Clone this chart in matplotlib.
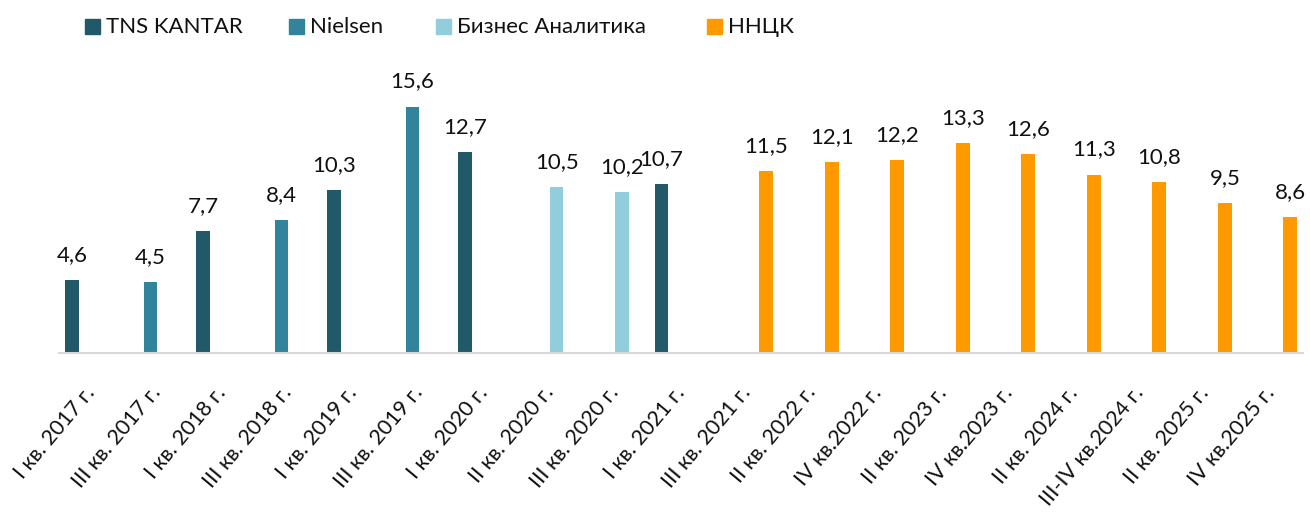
import numpy as np
import matplotlib
matplotlib.use("Agg")
import matplotlib.pyplot as plt
from matplotlib.patches import Rectangle

plt.rcParams['font.family'] = ['Lato', 'DejaVu Sans']

categories = ["I кв. 2017 г.", "III кв. 2017 г.", "I кв. 2018 г.", "III кв. 2018 г.",
              "I кв. 2019 г.", "III кв. 2019 г.", "I кв. 2020 г.", "II кв. 2020 г.",
              "III кв. 2020 г.", "I кв. 2021 г.", "III кв. 2021 г.", "II кв. 2022 г.",
              "IV кв.2022 г.", "II кв. 2023 г.", "IV кв.2023 г.", "II кв. 2024 г.",
              "III-IV кв.2024 г.", "II кв. 2025 г.", "IV кв.2025 г."]
values = [4.6, 4.5, 7.7, 8.4, 10.3, 15.6, 12.7, 10.5, 10.2, 10.7,
          11.5, 12.1, 12.2, 13.3, 12.6, 11.3, 10.8, 9.5, 8.6]
# which source (series) each value belongs to
source = [0, 1, 0, 1, 0, 1, 0, 2, 2, 0, 3, 3, 3, 3, 3, 3, 3, 3, 3]
series_names = ["TNS KANTAR", "Nielsen", "Бизнес Аналитика", "ННЦК"]
series_colors = ["#215968", "#31849B", "#92CDDC", "#FF9900"]

W, H = 1310, 514
fig = plt.figure(figsize=(W / 100, H / 100), dpi=100)
ax = fig.add_axes([0.0448, 0.3132, 0.9502, 0.553])

x = np.arange(len(categories))
step = 0.2
width = 0.21
for s, name in enumerate(series_names):
    idx = [i for i in range(len(values)) if source[i] == s]
    xs = x[idx] + (s - 1.5) * step
    vs = [values[i] for i in idx]
    bars = ax.bar(xs, vs, width=width, color=series_colors[s], zorder=2)
    for b, v in zip(bars, vs):
        ax.annotate(f"{v:.1f}".replace(".", ","), (b.get_x() + b.get_width() / 2, v),
                    xytext=(0, 11), textcoords="offset points", ha="center", va="bottom",
                    fontsize=16, color="#111111")

ax.set_xlim(-0.5, len(categories) - 0.5)
ax.set_ylim(0, 18)
ax.set_yticks([])
for sp in ["top", "right", "left"]:
    ax.spines[sp].set_visible(False)
ax.spines["bottom"].set_color("#D9D9D9")
ax.spines["bottom"].set_linewidth(1.5)
ax.set_xticks(x)
ax.set_xticklabels(categories, rotation=50, ha="right", va="center",
                   rotation_mode="anchor", fontsize=15.5, color="#111111")
ax.tick_params(axis="x", length=0, pad=26)

# legend drawn by hand so entries sit where the original has them
leg_x = [85, 289, 436, 707]
for lx, name, c in zip(leg_x, series_names, series_colors):
    fig.add_artist(Rectangle((lx / W, 1 - 34 / H), 15 / W, 15 / H,
                             transform=fig.transFigure, color=c))
    fig.text((lx + 21) / W, 1 - 27 / H, name, ha="left", va="center",
             fontsize=16, color="#111111")

fig.savefig("out.png", dpi=100)
